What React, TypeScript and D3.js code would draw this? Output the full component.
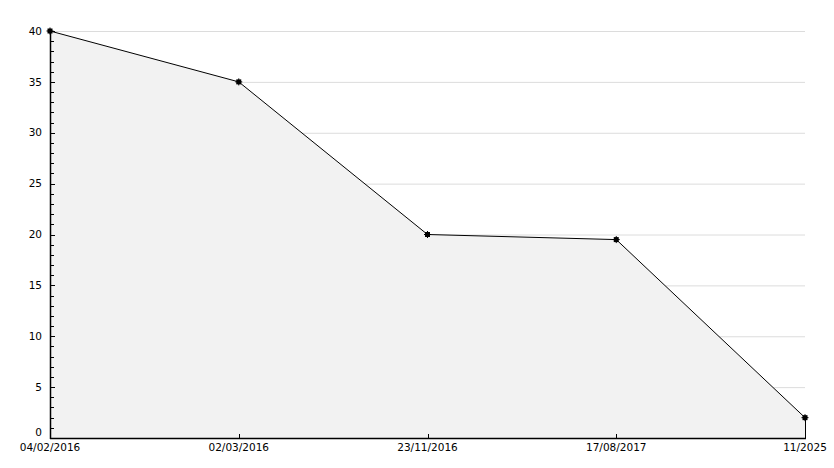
import React from "react";
import * as d3 from "d3";

const categories = ["04/02/2016", "02/03/2016", "23/11/2016", "17/08/2017", "11/2025"];
const values = [40, 35, 20, 19.5, 2];
const yTicks = [0, 5, 10, 15, 20, 25, 30, 35, 40];

const W = 834;
const H = 468;
const left = 50;
const right = 805;
const top = 31;
const bottom = 438;

export default function App() {
  const x = d3.scalePoint<string>().domain(categories).range([left, right]);
  const y = d3.scaleLinear().domain([0, 40]).range([bottom, top]);
  const pts: [number, number][] = categories.map((c, i) => [x(c)!, y(values[i])]);
  const line = d3.line()(pts)!;
  const area = d3.area<[number, number]>().x((d) => d[0]).y0(y(0)).y1((d) => d[1])(pts)!;
  const minor = d3.range(0, 41, 1).filter((v) => v % 5 !== 0);
  const font = "'DejaVu Sans', sans-serif";
  return (
    <svg width={W} height={H} style={{ position: "absolute", left: 0, top: 0, background: "#fff" }}>
      {yTicks.filter((v) => v > 0).map((v) => (
        <line key={"g" + v} x1={left} x2={right} y1={y(v) + 0.5} y2={y(v) + 0.5} stroke="#dcdcdc" strokeWidth={1} />
      ))}
      <path d={area} fill="#f2f2f2" stroke="none" />
      <line x1={right + 0.5} x2={right + 0.5} y1={pts[4][1]} y2={bottom} stroke="#000" strokeWidth={1} />
      <path d={line} fill="none" stroke="#000" strokeWidth={1} />
      {/* y axis */}
      <line x1={left + 0.5} x2={left + 0.5} y1={top} y2={bottom + 1} stroke="#000" strokeWidth={1.5} />
      {minor.map((v) => (
        <line key={"m" + v} x1={left} x2={left + 4} y1={Math.round(y(v)) + 0.5} y2={Math.round(y(v)) + 0.5} stroke="#000" />
      ))}
      {yTicks.map((v) => (
        <g key={"t" + v}>
          <line x1={left} x2={left + 5} y1={Math.round(y(v)) + 0.5} y2={Math.round(y(v)) + 0.5} stroke="#000" />
          <text x={42} y={y(v)} dy={v === 0 ? "-0.2em" : "0.35em"} textAnchor="end" fontFamily={font} fontSize={10.5} fill="#000">
            {v}
          </text>
        </g>
      ))}
      {/* x axis */}
      <line x1={left} x2={right + 1} y1={bottom + 0.5} y2={bottom + 0.5} stroke="#000" strokeWidth={1.5} />
      {categories.map((c) => (
        <g key={c}>
          <line x1={Math.round(x(c)!) + 0.5} x2={Math.round(x(c)!) + 0.5} y1={bottom} y2={bottom - 4} stroke="#000" />
          <text x={x(c)!} y={bottom + 13} textAnchor="middle" fontFamily={font} fontSize={10.5} fill="#000">
            {c}
          </text>
        </g>
      ))}
      {pts.map((p, i) => (
        <g key={"p" + i} transform={`translate(${p[0]},${p[1]})`}>
          <rect x={-2.5} y={-2.5} width={5} height={5} fill="#000" />
          <line x1={-3.5} x2={3.5} y1={0} y2={0} stroke="#000" />
          <line x1={0} x2={0} y1={-3.5} y2={3.5} stroke="#000" />
        </g>
      ))}
    </svg>
  );
}
